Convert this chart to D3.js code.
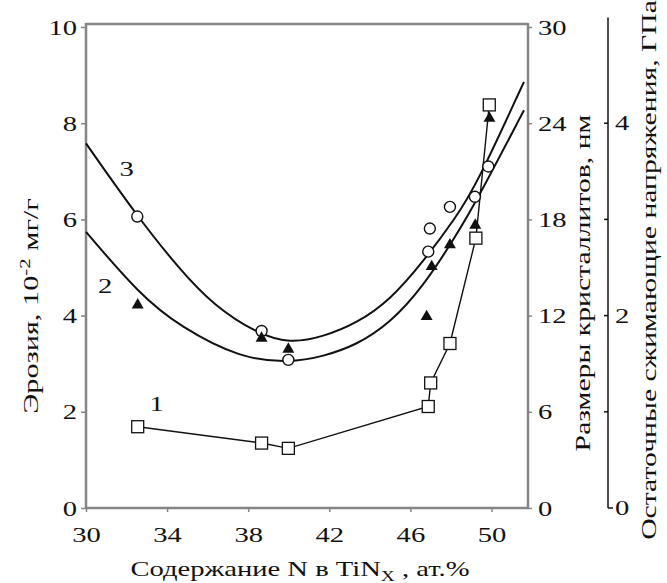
<!DOCTYPE html>
<html>
<head>
<meta charset="utf-8">
<script src="https://cdn.jsdelivr.net/npm/d3@7"></script>
<style>
  body { margin: 0; background: #fff; }
  text { font-family: "Liberation Serif", "DejaVu Serif", serif; fill: #111; }
</style>
</head>
<body>
<div id="chart"></div>
<script>
// x: N content, at.%; all y values in erosion units (left axis)
var squares = [[32.55,1.69],[38.66,1.35],[39.98,1.24],[46.88,2.11],[47.0,2.60],[47.95,3.42],[49.23,5.61],[49.89,8.38]]
var triangles = [[32.55,4.22],[38.66,3.53],[39.98,3.30],[46.8,3.98],[47.05,5.02],[47.95,5.47],[49.2,5.88],[49.9,8.10]]
var circles = [[32.53,6.06],[38.66,3.68],[39.98,3.08],[46.88,5.33],[46.96,5.81],[47.95,6.26],[49.18,6.47],[49.84,7.10]]

// fitted curves
var curve3 = [[30,7.58],[32.53,6.06],[34.64,4.95],[36.28,4.22],[38.42,3.63],[40.06,3.42],[41.7,3.56],[43.35,3.84],[44.99,4.32],[46.63,5.12],[48.28,6.06],[49.26,6.72],[51.6,8.86]]
var curve2 = [[30,5.74],[32.66,4.43],[34.64,3.77],[37.6,3.11],[40.06,3.02],[41.7,3.15],[43.35,3.39],[44.99,3.84],[46.63,4.6],[48.28,5.68],[49.26,6.38],[51.6,8.27]]

var curveLabels = [["3",32.0,7.06],["2",30.94,4.64],["1",33.49,2.18]]

var xTicks = [30,34,38,42,46,50]
var yTicks = [0,2,4,6,8,10]
var nmTicks = [0,6,12,18,24,30]
var gpaTicks = [1,2,3,4]
var gpaLabels = [0,2,4]

var width = 667, height = 583
var mLeft = 86, mRight = 528, mTop = 27, mBottom = 508
var sx = 608      // stress axis position
var stretch = 1.3 // the lettering in the source is wide

var svg = d3.select("#chart").append("svg")
    .attr("width", width)
    .attr("height", height)

var x = d3.scaleLinear().domain([30, 51.8]).range([mLeft, mRight])
var y = d3.scaleLinear().domain([0, 10]).range([mBottom, mTop])
var yNm = d3.scaleLinear().domain([0, 30]).range([mBottom, mTop])
var yGpa = d3.scaleLinear().domain([0, 5]).range([mBottom, mTop])

var grey = "#858585"

// widen a tick label around its own anchor
function widen(sel) {
  sel.each(function() {
    var t = d3.select(this)
    var tx = +t.attr("x") || 0
    t.attr("x", tx / stretch).attr("transform", "scale(" + stretch + ",1)")
  })
}

// frame top line
svg.append("line")
    .attr("x1", mLeft).attr("x2", mRight)
    .attr("y1", mTop - 3).attr("y2", mTop - 3)
    .attr("stroke", grey).attr("stroke-width", 2.5)

// bottom axis
var gx = svg.append("g")
    .attr("transform", "translate(0," + mBottom + ")")
    .call(d3.axisBottom(x).tickValues(xTicks).tickSize(4).tickSizeOuter(0).tickPadding(14))
gx.select(".domain").attr("stroke", grey).attr("stroke-width", 2.5)
    .attr("d", "M" + mLeft + ",0H" + mRight)

// left axis
var gy = svg.append("g")
    .attr("transform", "translate(" + mLeft + ",0)")
    .call(d3.axisLeft(y).tickValues(yTicks).tickSize(5).tickSizeOuter(0).tickPadding(4))
gy.select(".domain").attr("stroke", grey).attr("stroke-width", 2.5)
    .attr("d", "M0," + (mTop - 4) + "V" + mBottom)

// crystallite size axis
var gn = svg.append("g")
    .attr("transform", "translate(" + mRight + ",0)")
    .call(d3.axisRight(yNm).tickValues(nmTicks).tickSize(4).tickSizeOuter(0).tickPadding(6))
gn.select(".domain").attr("stroke", grey).attr("stroke-width", 2.5)
    .attr("d", "M0," + (mTop - 4) + "V" + (mBottom + 1))

svg.selectAll(".tick line").attr("stroke", grey).attr("stroke-width", 1.5)
svg.selectAll(".tick text").style("font-size", "22px")
    .style("font-family", "'Liberation Serif', serif").attr("fill", "#111")
    .call(widen)

// stress axis
var gs = svg.append("g").attr("transform", "translate(" + sx + ",0)")
gs.append("line")
    .attr("y1", yGpa(0)).attr("y2", yGpa(5.1))
    .attr("stroke", "#111").attr("stroke-width", 1.5)
gs.append("line")
    .attr("x1", 0).attr("x2", 5)
    .attr("y1", yGpa(0)).attr("y2", yGpa(0))
    .attr("stroke", "#111").attr("stroke-width", 1.5)
gs.selectAll(".gt").data(gpaTicks).enter().append("line")
    .attr("x1", -4).attr("x2", 0)
    .attr("y1", function(d){ return yGpa(d) }).attr("y2", function(d){ return yGpa(d) })
    .attr("stroke", "#111").attr("stroke-width", 1.5)
gs.selectAll(".gl").data(gpaLabels).enter().append("text")
    .attr("x", 7)
    .attr("y", function(d){ return yGpa(d) })
    .attr("dy", "0.32em")
    .style("font-size", "22px")
    .text(function(d){ return d })
    .call(widen)

// curves
var line = d3.line()
    .x(function(d){ return x(d[0]) })
    .y(function(d){ return y(d[1]) })
    .curve(d3.curveBasis)

;[curve3, curve2].forEach(function(c){
  svg.append("path")
      .attr("d", line(c))
      .attr("fill", "none")
      .attr("stroke", "#111")
      .attr("stroke-width", 2)
})

// series 1 polyline
svg.append("path")
    .attr("d", d3.line().x(function(d){ return x(d[0]) }).y(function(d){ return y(d[1]) })(squares))
    .attr("fill", "none")
    .attr("stroke", "#111")
    .attr("stroke-width", 1.4)

svg.selectAll(".sq").data(squares).enter().append("rect")
    .attr("x", function(d){ return x(d[0]) - 6 })
    .attr("y", function(d){ return y(d[1]) - 6 })
    .attr("width", 12).attr("height", 12)
    .attr("fill", "#fff").attr("stroke", "#111").attr("stroke-width", 1.3)

svg.selectAll(".ci").data(circles).enter().append("circle")
    .attr("cx", function(d){ return x(d[0]) })
    .attr("cy", function(d){ return y(d[1]) })
    .attr("r", 5.5)
    .attr("fill", "#fff").attr("stroke", "#111").attr("stroke-width", 1.4)

var tri = d3.symbol().type(d3.symbolTriangle).size(62)
svg.selectAll(".tr").data(triangles).enter().append("path")
    .attr("d", tri)
    .attr("transform", function(d){ return "translate(" + x(d[0]) + "," + y(d[1]) + ")" })
    .attr("fill", "#111")

// curve numbers
svg.selectAll(".cl").data(curveLabels).enter().append("text")
    .attr("transform", function(d){ return "translate(" + x(d[1]) + "," + y(d[2]) + ") scale(" + stretch + ",1)" })
    .attr("text-anchor", "middle")
    .attr("dy", "0.35em")
    .style("font-size", "22px")
    .text(function(d){ return d[0] })

// axis titles
var xt = svg.append("text")
    .attr("transform", "translate(300,576) scale(" + stretch + ",1)")
    .attr("text-anchor", "middle")
    .style("font-size", "22px")
xt.append("tspan").text("Содержание N в TiN")
xt.append("tspan").attr("dy", 5).style("font-size", "15px").text("X")
xt.append("tspan").attr("dy", -5).text(" ,  ат.%")

var yt = svg.append("text")
    .attr("transform", "translate(30,306) rotate(-90) scale(1.38,1)")
    .attr("text-anchor", "middle")
    .attr("dy", "0.35em")
    .style("font-size", "22px")
yt.append("tspan").text("Эрозия,  10")
yt.append("tspan").attr("dy", -8).style("font-size", "15px").text("-2")
yt.append("tspan").attr("dy", 8).text(" мг/г")

svg.append("text")
    .attr("transform", "translate(582,283) rotate(-90) scale(1.35,1)")
    .attr("text-anchor", "middle")
    .attr("dy", "0.35em")
    .style("font-size", "22px")
    .text("Размеры кристаллитов,  нм")

svg.append("text")
    .attr("transform", "translate(648,270) rotate(-90) scale(1.35,1)")
    .attr("text-anchor", "middle")
    .attr("dy", "0.35em")
    .style("font-size", "22px")
    .text("Остаточные сжимающие напряжения,  ГПа")
</script>
</body>
</html>
